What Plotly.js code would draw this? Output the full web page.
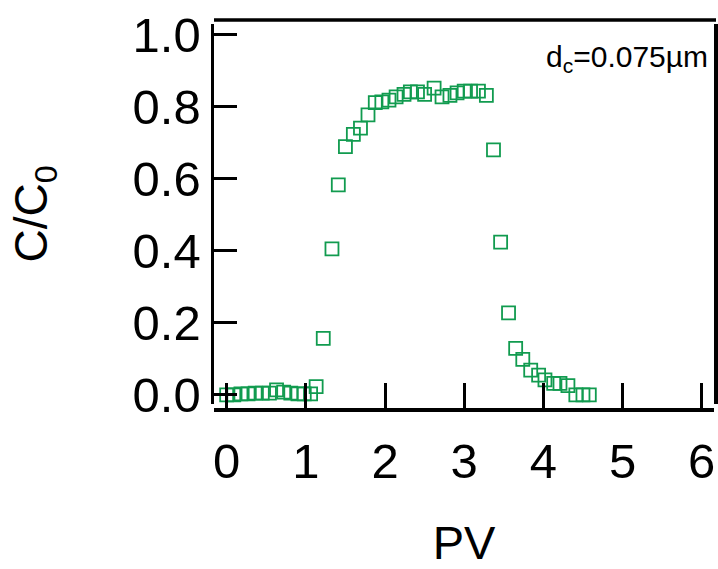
<!DOCTYPE html>
<html>
<head>
<meta charset="utf-8">
<script src="https://cdn.plot.ly/plotly-3.0.1.min.js"></script>
<style>
  html, body { margin: 0; padding: 0; background: #fff; }
  #chart { width: 718px; height: 569px; }
</style>
</head>
<body>
<div id="chart"></div>
<script>
// Breakthrough curve: relative concentration C/C0 against pore volumes (PV)
const pv = [0, 0.09, 0.18, 0.27, 0.36, 0.45, 0.54, 0.63, 0.72, 0.81, 0.90, 0.98, 1.06,
            1.13, 1.22, 1.33, 1.41, 1.50, 1.60, 1.69, 1.785, 1.877, 1.96, 2.05, 2.14,
            2.24, 2.32, 2.41, 2.50, 2.62, 2.72, 2.82, 2.91, 3.00, 3.08, 3.18, 3.28,
            3.37, 3.46, 3.56, 3.65, 3.74, 3.84, 3.94, 4.02, 4.13, 4.21, 4.31, 4.41,
            4.50, 4.58];
const cRatio = [0, 0, 0.003, 0.003, 0.005, 0.005, 0.005, 0.014, 0.008, 0.005, 0.003, 0.003, 0.003,
                0.023, 0.157, 0.405, 0.583, 0.689, 0.723, 0.740, 0.777, 0.811, 0.813, 0.818, 0.827,
                0.834, 0.841, 0.841, 0.834, 0.851, 0.827, 0.831, 0.838, 0.843, 0.843, 0.843, 0.831,
                0.680, 0.424, 0.228, 0.129, 0.099, 0.069, 0.055, 0.042, 0.032, 0.032, 0.026, 0,
                0, 0];

const xTicks = [0, 1, 2, 3, 4, 5, 6];
const yTicks = [0, 0.2, 0.4, 0.6, 0.8, 1.0];
const yTickText = ['0.0', '0.2', '0.4', '0.6', '0.8', '1.0'];
const label = 'd<sub>c</sub>=0.075\u00b5m';

const sans = '"Liberation Sans", Arial, sans-serif';

const trace = {
  x: pv,
  y: cRatio,
  type: 'scatter',
  mode: 'markers',
  marker: {
    symbol: 'square-open',
    size: 13,
    color: '#119b4f',
    line: { width: 1.8, color: '#119b4f' }
  },
  hoverinfo: 'x+y'
};

const layout = {
  width: 718,
  height: 569,
  margin: { l: 214, r: 4, t: 20, b: 160, pad: 0 },
  paper_bgcolor: '#ffffff',
  plot_bgcolor: '#ffffff',
  showlegend: false,
  font: { family: sans, color: '#000' },
  xaxis: {
    range: [-0.16, 6.155],
    anchor: 'free',
    position: 0,
    showgrid: false,
    zeroline: false,
    showline: true,
    linecolor: '#000',
    linewidth: 3.5,
    ticks: 'inside',
    ticklen: 25,
    tickwidth: 3,
    tickcolor: '#000',
    tickmode: 'array',
    tickvals: xTicks,
    ticklabelstandoff: 8,
    tickfont: { family: sans, size: 49, color: '#000' },
    title: { text: 'PV', font: { family: sans, size: 47, color: '#000' }, standoff: 67 },
    automargin: false
  },
  yaxis: {
    domain: [0.0129, 0.9897],
    range: [-0.025, 1.029],
    showgrid: false,
    zeroline: false,
    showline: true,
    mirror: true,
    linecolor: '#000',
    linewidth: 3.5,
    ticks: 'inside',
    ticklen: 23,
    tickwidth: 3,
    tickcolor: '#000',
    tickmode: 'array',
    tickvals: yTicks,
    ticktext: yTickText,
    tickfont: { family: sans, size: 49, color: '#000' },
    title: { text: 'C/C<sub>0</sub>', font: { family: sans, size: 46, color: '#000' }, standoff: 71 },
    automargin: false
  },
  shapes: [
    // upper frame edge, detached from the vertical axes
    { type: 'line', xref: 'paper', yref: 'paper', x0: 0, x1: 1.004, y0: 1, y1: 1,
      line: { color: '#000', width: 3.5 } }
  ],
  annotations: [
    { text: label, xref: 'paper', yref: 'paper', x: 0.992, y: 0.955,
      xanchor: 'right', yanchor: 'top', showarrow: false,
      font: { family: sans, size: 30, color: '#000' } }
  ]
};

Plotly.newPlot('chart', [trace], layout, { displayModeBar: false, staticPlot: true });
</script>
</body>
</html>
